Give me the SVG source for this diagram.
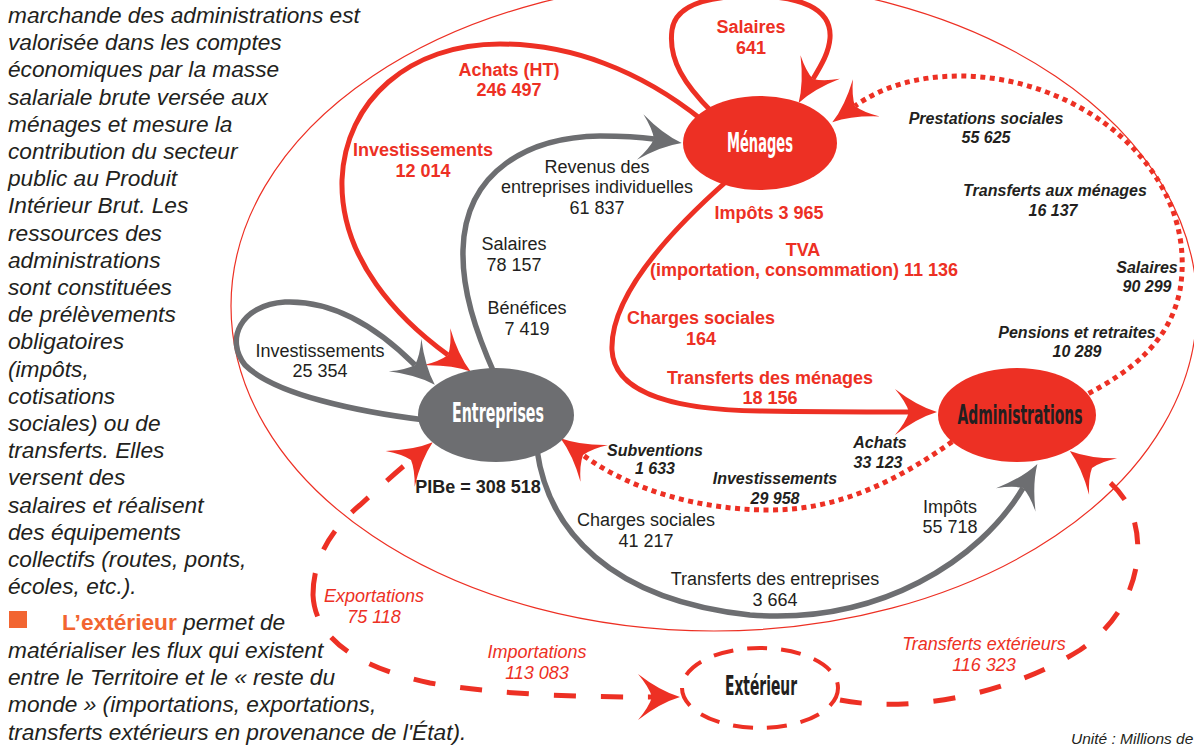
<svg xmlns="http://www.w3.org/2000/svg" width="1194" height="745" viewBox="0 0 1194 745">
<style>
.para{font-family:"Liberation Sans",Arial,sans-serif;font-style:italic;font-size:22.7px;fill:#231f20}
.lbl{font-family:"Liberation Sans",Arial,sans-serif;font-size:18px;text-anchor:middle}
.red{fill:#ed3024}
.blk{fill:#231f20}
.b{font-weight:bold}
.i{font-style:italic}
.bi{font-weight:bold;font-style:italic;font-size:16px;fill:#231f20}
.node{font-family:"Liberation Sans Narrow","DejaVu Sans Condensed",sans-serif;font-weight:bold;font-size:26px;text-anchor:middle}
.sr{fill:none;stroke:#ed3024;stroke-width:5}
.sg{fill:none;stroke:#6d6e71;stroke-width:5.5}
.dot{fill:none;stroke:#ed3024;stroke-width:5;stroke-dasharray:5 4.5}
.dash{fill:none;stroke:#ed3024;stroke-width:5;stroke-dasharray:22 25}
</style>
<defs>
<marker id="ahR" viewBox="-16 -25 46 50" refX="0" refY="0" markerWidth="46" markerHeight="50" markerUnits="userSpaceOnUse" orient="auto">
<path d="M28,0 Q8,-6 -14,-23 Q-3,-10 0,0 Q-3,10 -14,23 Q8,6 28,0 Z" fill="#ed3024"/>
</marker>
<marker id="ahG" viewBox="-16 -25 46 50" refX="0" refY="0" markerWidth="46" markerHeight="50" markerUnits="userSpaceOnUse" orient="auto">
<path d="M28,0 Q8,-6 -14,-23 Q-3,-10 0,0 Q-3,10 -14,23 Q8,6 28,0 Z" fill="#6d6e71"/>
</marker>
</defs>
<rect width="1194" height="745" fill="#ffffff"/>

<g id="texte">
<text class="para" x="8" y="23">marchande des administrations est</text>
<text class="para" x="8" y="50">valorisée dans les comptes</text>
<text class="para" x="8" y="77">économiques par la masse</text>
<text class="para" x="8" y="105">salariale brute versée aux</text>
<text class="para" x="8" y="132">ménages et mesure la</text>
<text class="para" x="8" y="159">contribution du secteur</text>
<text class="para" x="8" y="186">public au Produit</text>
<text class="para" x="8" y="213">Intérieur Brut. Les</text>
<text class="para" x="8" y="241">ressources des</text>
<text class="para" x="8" y="268">administrations</text>
<text class="para" x="8" y="295">sont constituées</text>
<text class="para" x="8" y="322">de prélèvements</text>
<text class="para" x="8" y="349">obligatoires</text>
<text class="para" x="8" y="377">(impôts,</text>
<text class="para" x="8" y="404">cotisations</text>
<text class="para" x="8" y="431">sociales) ou de</text>
<text class="para" x="8" y="458">transferts. Elles</text>
<text class="para" x="8" y="485">versent des</text>
<text class="para" x="8" y="513">salaires et réalisent</text>
<text class="para" x="8" y="540">des équipements</text>
<text class="para" x="8" y="567">collectifs (routes, ponts,</text>
<text class="para" x="8" y="594">écoles, etc.).</text>
<rect x="9" y="611" width="18" height="17" fill="#f26531"/>
<text class="para" x="62" y="630"><tspan style="font-style:normal;font-weight:bold;fill:#f26531">L’extérieur</tspan> permet de</text>
<text class="para" x="8" y="658">matérialiser les flux qui existent</text>
<text class="para" x="8" y="685">entre le Territoire et le « reste du</text>
<text class="para" x="8" y="712">monde » (importations, exportations,</text>
<text class="para" x="8" y="740">transferts extérieurs en provenance de l'État).</text>
<text x="1071" y="744" style="font-family:'Liberation Sans',Arial,sans-serif;font-style:italic;font-size:15.5px;fill:#231f20">Unité : Millions de</text>
</g>

<ellipse id="territoire" cx="714" cy="306" rx="483" ry="325" fill="none" stroke="#ed3024" stroke-width="1.2"/>

<g id="connectors">
<path class="sr" d="M712,112 C685,85 668,60 672,30 C676,0 720,-4 752,-4 C800,-4 832,8 830,38 C829,52 822,64 813,79" marker-end="url(#ahR)"/>
<path class="sr" d="M702,120 C640,70 570,44 500,44 C410,44 345,100 342,180 C340,260 400,320 448,355" marker-end="url(#ahR)"/>
<path class="sg" d="M495,375 C475,330 462,290 463,250 C465,170 530,137 600,136 C625,136 640,137 654,139" marker-end="url(#ahG)"/>
<path class="sg" d="M425,420 C360,412 275,395 245,365 C225,340 240,305 285,302 C335,300 380,330 415,365" marker-end="url(#ahG)"/>
<path class="sr" d="M728,180 C660,240 610,300 612,350 C614,395 680,410 760,411 C820,412 870,412 909,412" marker-end="url(#ahR)"/>
<path class="dot" d="M1080,398 C1135,370 1170,340 1180,290 C1190,230 1165,180 1130,145 C1085,100 1020,76 960,76 C915,76 880,88 855,106" marker-end="url(#ahR)"/>
<path class="dot" d="M960,436 C900,480 840,510 770,510 C700,510 630,490 583,455" marker-end="url(#ahR)"/>
<path class="sg" d="M537,450 C548,530 610,600 750,615 C880,625 980,560 1023,488" marker-end="url(#ahG)"/>
<path class="dash" d="M313,595 C313,560 330,530 360,505 C380,487 395,473 411,460" marker-end="url(#ahR)"/>
<path class="dash" d="M313,595 C315,640 360,668 430,683 C500,695 580,697 652,697" marker-end="url(#ahR)"/>
<path class="dash" d="M840,700 C900,712 1000,700 1080,650 C1140,610 1150,540 1125,500 C1115,485 1105,478 1092,468" marker-end="url(#ahR)"/>
</g>

<g id="menages">
<ellipse cx="760" cy="143" rx="77" ry="47" fill="#ed3024"/>
<text class="node" x="760" y="152" fill="#ffffff" textLength="66" lengthAdjust="spacingAndGlyphs">Ménages</text>
</g>
<g id="entreprises">
<ellipse cx="496" cy="415" rx="78" ry="47" fill="#6d6e71"/>
<text class="node" x="498" y="422" fill="#ffffff" textLength="92" lengthAdjust="spacingAndGlyphs">Entreprises</text>
</g>
<g id="administrations">
<ellipse cx="1017" cy="415" rx="79" ry="47" fill="#ed3024"/>
<text class="node" x="1020" y="424" fill="#231f20" textLength="125" lengthAdjust="spacingAndGlyphs">Administrations</text>
</g>
<g id="exterieur">
<ellipse cx="760" cy="688" rx="78" ry="40" fill="#ffffff" stroke="#ed3024" stroke-width="4" stroke-dasharray="20 14"/>
<text class="node" x="761" y="695" fill="#231f20" textLength="72" lengthAdjust="spacingAndGlyphs">Extérieur</text>
</g>

<g id="labels">
<text class="lbl red b" x="751" y="33">Salaires</text>
<text class="lbl red b" x="751" y="54">641</text>
<text class="lbl red b" x="509" y="76">Achats (HT)</text>
<text class="lbl red b" x="509" y="96">246 497</text>
<text class="lbl red b" x="423" y="156">Investissements</text>
<text class="lbl red b" x="423" y="177">12 014</text>
<text class="lbl blk" x="597" y="173">Revenus des</text>
<text class="lbl blk" x="597" y="193">entreprises individuelles</text>
<text class="lbl blk" x="597" y="214">61 837</text>
<text class="lbl blk" x="514" y="250">Salaires</text>
<text class="lbl blk" x="514" y="271">78 157</text>
<text class="lbl blk" x="527" y="314">Bénéfices</text>
<text class="lbl blk" x="527" y="335">7 419</text>
<text class="lbl blk" x="320" y="357">Investissements</text>
<text class="lbl blk" x="320" y="377">25 354</text>
<text class="lbl blk b" x="478" y="493">PIBe = 308 518</text>
<text class="lbl bi" x="655" y="456">Subventions</text>
<text class="lbl bi" x="655" y="474">1 633</text>
<text class="lbl bi" x="775" y="484">Investissements</text>
<text class="lbl bi" x="775" y="504">29 958</text>
<text class="lbl bi" x="880" y="448">Achats</text>
<text class="lbl bi" x="878" y="468">33 123</text>
<text class="lbl red b" x="769" y="219">Impôts 3 965</text>
<text class="lbl red b" x="803" y="256">TVA</text>
<text class="lbl red b" x="804" y="276">(importation, consommation) 11 136</text>
<text class="lbl red b" x="701" y="324">Charges sociales</text>
<text class="lbl red b" x="701" y="345">164</text>
<text class="lbl red b" x="770" y="384">Transferts des ménages</text>
<text class="lbl red b" x="770" y="404">18 156</text>
<text class="lbl bi" x="986" y="124">Prestations sociales</text>
<text class="lbl bi" x="986" y="143">55 625</text>
<text class="lbl bi" x="1055" y="196">Transferts aux ménages</text>
<text class="lbl bi" x="1053" y="216">16 137</text>
<text class="lbl bi" x="1147" y="273">Salaires</text>
<text class="lbl bi" x="1147" y="292">90 299</text>
<text class="lbl bi" x="1077" y="338">Pensions et retraites</text>
<text class="lbl bi" x="1077" y="357">10 289</text>
<text class="lbl blk" x="646" y="526">Charges sociales</text>
<text class="lbl blk" x="646" y="547">41 217</text>
<text class="lbl blk" x="775" y="585">Transferts des entreprises</text>
<text class="lbl blk" x="775" y="606">3 664</text>
<text class="lbl blk" x="950" y="513">Impôts</text>
<text class="lbl blk" x="950" y="533">55 718</text>
<text class="lbl red i" x="374" y="602">Exportations</text>
<text class="lbl red i" x="374" y="623">75 118</text>
<text class="lbl red i" x="537" y="658">Importations</text>
<text class="lbl red i" x="537" y="679">113 083</text>
<text class="lbl red i" x="984" y="650">Transferts extérieurs</text>
<text class="lbl red i" x="984" y="671">116 323</text>
</g>
</svg>
